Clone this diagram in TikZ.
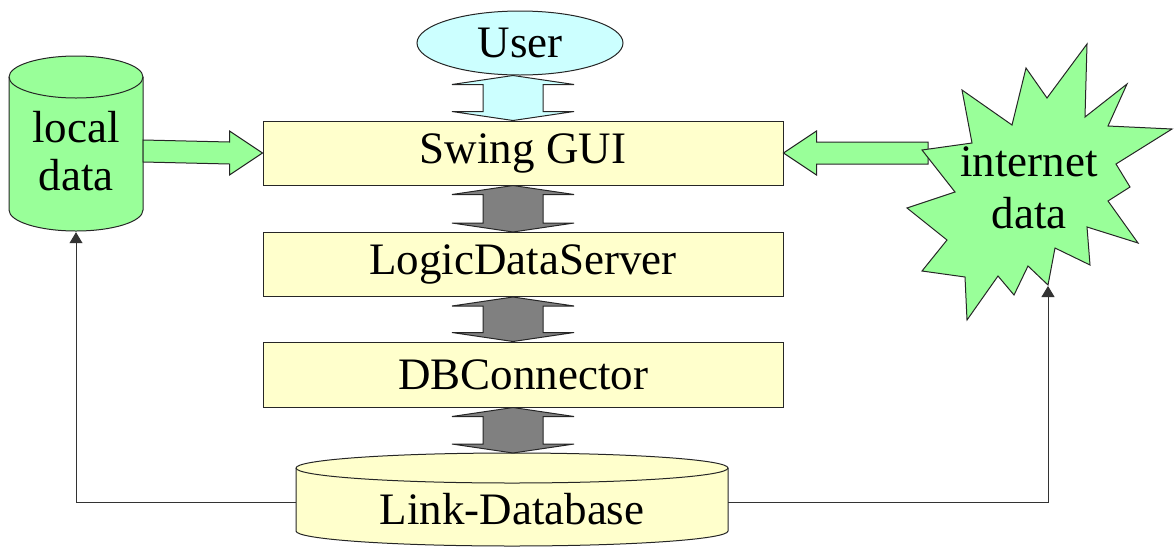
\documentclass[tikz,border=0pt]{standalone}
\usepackage{fontspec}
\setmainfont{Liberation Serif}
\usetikzlibrary{shapes.geometric,calc,arrows.meta}
\definecolor{usercyan}{HTML}{CCFFFF}
\definecolor{datagreen}{HTML}{99FF99}
\definecolor{layeryellow}{HTML}{FFFFCC}
\definecolor{callgray}{HTML}{808080}
% double headed block arrow between two stacked nodes
\newcommand{\twoway}[3]{%
  \path (ax |- #2.south) coordinate (tt) (ax |- #3.north) coordinate (bb);
  \filldraw[outline, fill=#1] (tt) -- ++(-61,9) -- ++(31,0) -- ($(bb)+(-30,-9)$) -- ++(-31,0)
    -- (bb) -- ++(61,-9) -- ++(-31,0) -- ($(tt)+(30,9)$) -- ++(31,0) -- cycle;
}
% storage drum: fill, cx, ytop, ybottom, rx, ry
\newcommand{\drum}[6]{%
  \filldraw[outline, fill=#1] (#2-#5,#3) -- (#2-#5,#4)
    arc[start angle=180, end angle=360, x radius=#5pt, y radius=#6pt] -- (#2+#5,#3)
    arc[start angle=0, end angle=180, x radius=#5pt, y radius=#6pt] -- cycle;
  \draw[outline] (#2-#5,#3) arc[start angle=180, end angle=360, x radius=#5pt, y radius=#6pt];
}
% fat one way arrow: start, tip, direction (1 or -1)
\newcommand{\fatarrow}[3]{%
  \filldraw[outline, fill=datagreen] ($(#1)+(0,-11)$) -- ($(#2)+({-33*(#3)},-11)$)
    -- ($(#2)+({-33*(#3)},-22)$) -- (#2) -- ($(#2)+({-33*(#3)},22)$)
    -- ($(#2)+({-33*(#3)},11)$) -- ($(#1)+(0,11)$) -- cycle;
}
\begin{document}
\begin{tikzpicture}[x=1pt, y=-1pt,
    every node/.style={font=\fontsize{45}{48}\selectfont},
    outline/.style={draw=black!85, line width=1pt},
    layer/.style={outline, fill=layeryellow, minimum width=520pt, minimum height=64pt, inner sep=0pt},
    link/.style={draw=black!80, line width=1pt, -{Triangle[width=13pt,length=11pt]}}]
  \useasboundingbox (0,0) rectangle (1175,547);
  \coordinate (ax) at (513,0);

  \node[ellipse, outline, fill=usercyan, minimum width=206pt, minimum height=64pt, inner sep=0pt] (user) at (520,43) {User};
  \node[layer] (gui) at (523,153) {Swing GUI};
  \node[layer] (logic) at (523,264.5) {LogicDataServer};
  \node[layer, minimum height=65pt] (dbc) at (523,374.5) {DBConnector};

  % link database
  \drum{layeryellow}{512}{468}{531}{216}{15}
  \coordinate (ldbtop) at (512,453);
  \node[minimum width=432pt, minimum height=30pt, inner sep=0pt] (ldb) at (512,509) {Link-Database};

  % local data
  \drum{datagreen}{76}{77}{210}{67}{21}
  \node[align=center, minimum width=134pt, minimum height=162pt, inner sep=0pt] (local) at (76,151) {local\\data};

  \twoway{usercyan}{user}{gui}
  \twoway{callgray}{gui}{logic}
  \twoway{callgray}{logic}{dbc}
  \twoway{callgray}{dbc}{ldbtop}

  \fatarrow{local.east}{gui.west}{1}
  \coordinate (netin) at (928,153);
  \fatarrow{netin}{gui.east}{-1}

  % internet data
  \filldraw[outline, fill=datagreen] (922,150) -- (972,143) -- (962,90) -- (1012,125) -- (1026,68)
    -- (1047,98) -- (1087,44) -- (1085,117) -- (1127,84) -- (1108,126) -- (1172,129) -- (1116,164)
    -- (1130,187) -- (1108,201) -- (1138,243) -- (1087,227) -- (1090,265) -- (1055,248) -- (1048,285)
    -- (1028,266) -- (1014,295) -- (998,276) -- (967,320) -- (965,277) -- (922,271) -- (947,240)
    -- (907,208) -- (955,192) -- cycle;
  \node[align=center, inner sep=0pt, font=\fontsize{45}{52}\selectfont] (net) at (1029,188) {internet\\data};
  \coordinate (nettip) at (1048,286);

  \draw[link] ([yshift=7pt]ldb.west) -| (local.south);
  \draw[link] ([yshift=7pt]ldb.east) -| (nettip);
\end{tikzpicture}
\end{document}
